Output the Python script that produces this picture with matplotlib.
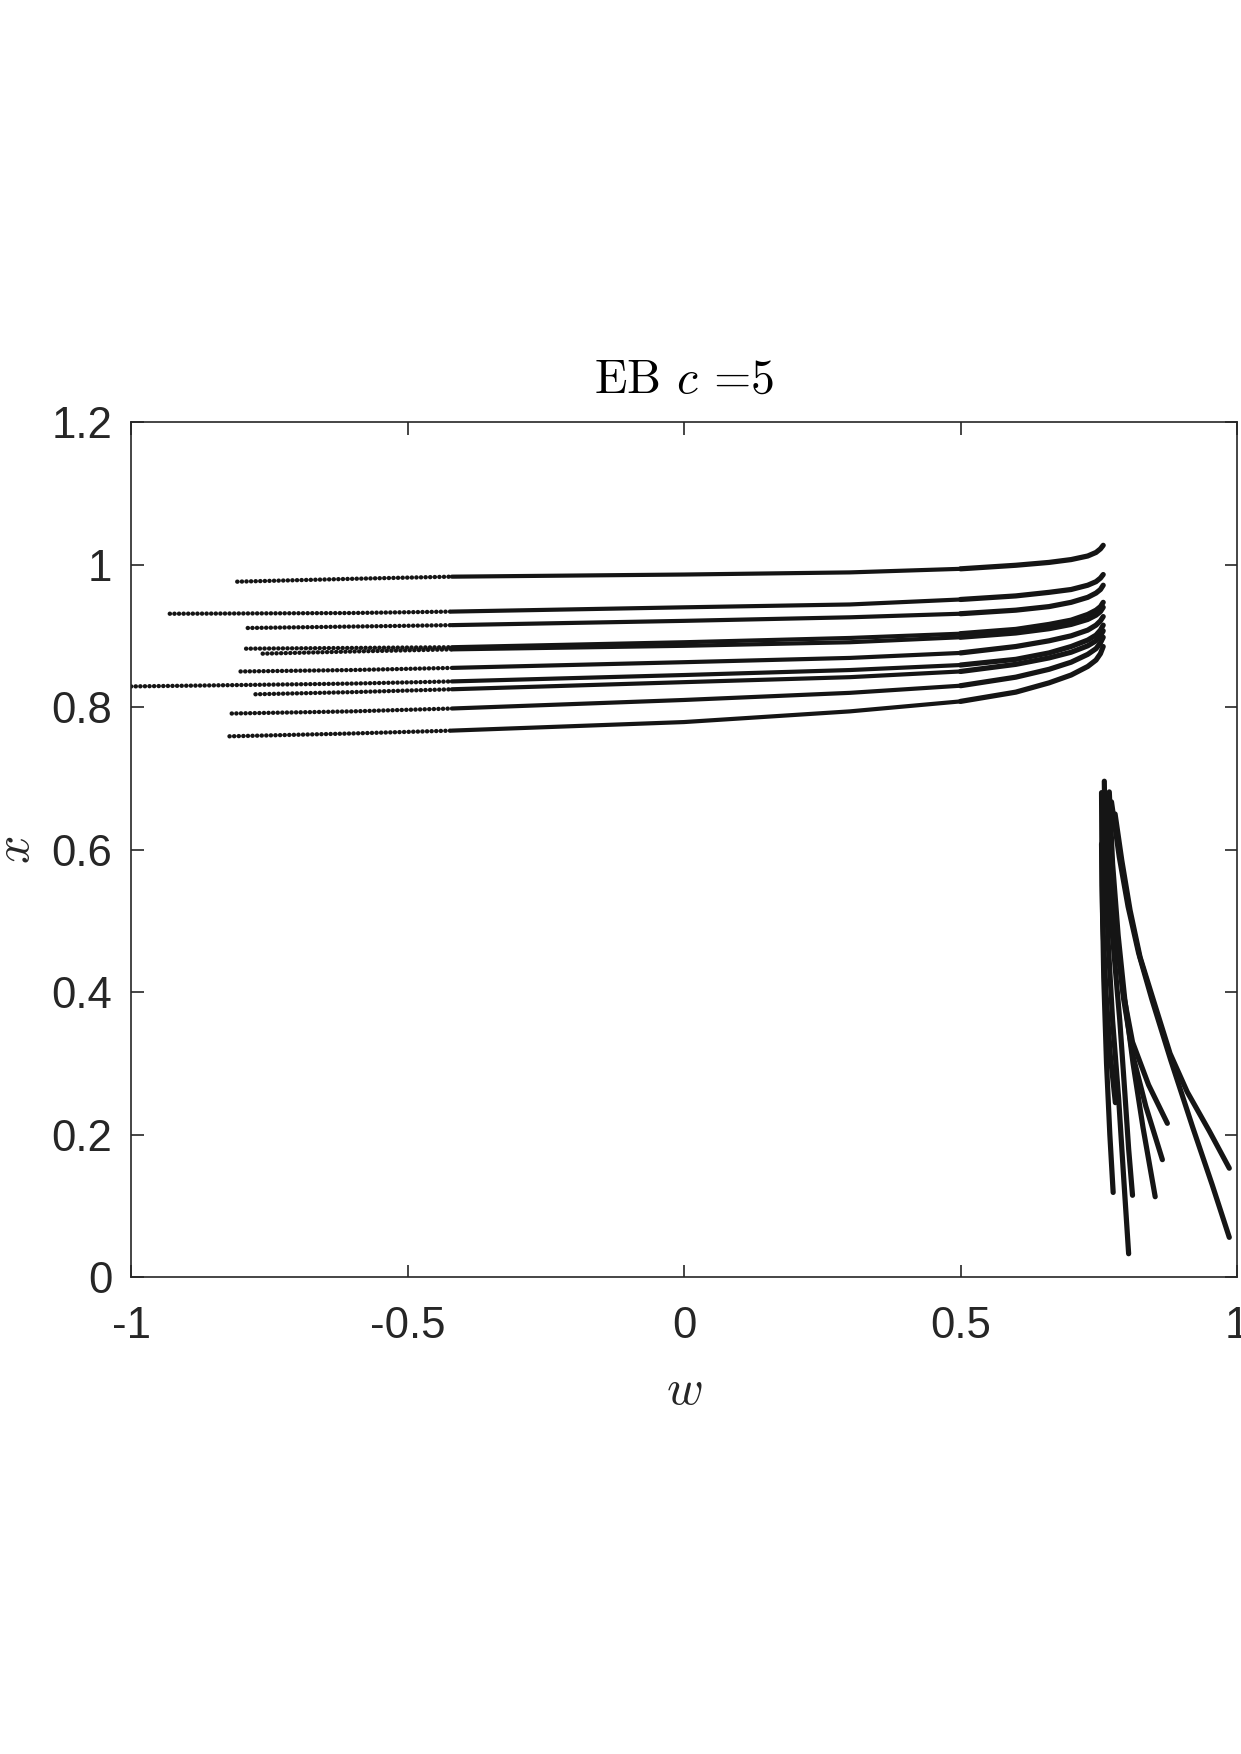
import matplotlib
matplotlib.use("Agg")
import matplotlib.pyplot as plt

plt.rcParams["mathtext.fontset"] = "cm"
plt.rcParams["font.family"] = ["Liberation Sans", "DejaVu Sans"]

AX_COLOR = "#262626"
LINE_COLOR = "#151515"

# upper branch: one list of (w, x) samples per trajectory
W_GRID = [-0.6, -0.42, 0.0, 0.3, 0.5, 0.6, 0.66, 0.70, 0.73, 0.745, 0.753, 0.758]
UPPER_W0 = [-0.808, -0.930, -0.789, -0.792, -0.762, -0.802, -1.000, -0.775, -0.818, -0.822]
UPPER_X0 = [0.976, 0.931, 0.911, 0.882, 0.875, 0.850, 0.829, 0.818, 0.791, 0.759]
UPPER_X = [
    [0.980, 0.983, 0.986, 0.989, 0.994, 0.999, 1.003, 1.007, 1.012, 1.017, 1.022, 1.027],
    [0.932, 0.934, 0.940, 0.944, 0.951, 0.956, 0.961, 0.965, 0.971, 0.976, 0.981, 0.986],
    [0.913, 0.915, 0.921, 0.926, 0.931, 0.936, 0.941, 0.947, 0.954, 0.960, 0.965, 0.971],
    [0.883, 0.884, 0.891, 0.897, 0.903, 0.909, 0.916, 0.922, 0.930, 0.936, 0.941, 0.947],
    [0.878, 0.881, 0.886, 0.891, 0.898, 0.904, 0.910, 0.916, 0.923, 0.929, 0.934, 0.940],
    [0.852, 0.855, 0.863, 0.869, 0.876, 0.885, 0.893, 0.900, 0.908, 0.915, 0.921, 0.927],
    [0.833, 0.836, 0.845, 0.852, 0.859, 0.867, 0.876, 0.885, 0.894, 0.901, 0.908, 0.915],
    [0.821, 0.825, 0.835, 0.842, 0.850, 0.860, 0.869, 0.877, 0.886, 0.893, 0.900, 0.907],
    [0.794, 0.798, 0.810, 0.820, 0.830, 0.842, 0.853, 0.863, 0.874, 0.882, 0.890, 0.898],
    [0.763, 0.767, 0.779, 0.794, 0.808, 0.821, 0.834, 0.845, 0.857, 0.866, 0.875, 0.885],
]

# lower branch
LOWER_W = [
    [0.755, 0.756, 0.759, 0.764, 0.770, 0.776],
    [0.760, 0.762, 0.767, 0.775, 0.786, 0.795, 0.804],
    [0.755, 0.757, 0.763, 0.771, 0.780],
    [0.762, 0.767, 0.778, 0.788, 0.797, 0.804, 0.811],
    [0.769, 0.775, 0.785, 0.797, 0.812, 0.830, 0.852],
    [0.766, 0.772, 0.782, 0.795, 0.812, 0.835, 0.865],
    [0.765, 0.771, 0.781, 0.794, 0.811, 0.840, 0.874],
    [0.7795, 0.7916, 0.8066, 0.8247, 0.8487, 0.8789, 0.910, 0.950, 0.986],
    [0.773, 0.787, 0.803, 0.822, 0.846, 0.880, 0.920, 0.955, 0.986],
]
LOWER_X = [
    [0.680, 0.550, 0.420, 0.300, 0.200, 0.119],
    [0.696, 0.580, 0.470, 0.360, 0.250, 0.140, 0.033],
    [0.608, 0.500, 0.400, 0.310, 0.245],
    [0.650, 0.550, 0.450, 0.360, 0.260, 0.180, 0.115],
    [0.681, 0.580, 0.480, 0.390, 0.300, 0.210, 0.113],
    [0.670, 0.570, 0.480, 0.390, 0.310, 0.240, 0.165],
    [0.660, 0.570, 0.480, 0.400, 0.330, 0.270, 0.216],
    [0.650, 0.585, 0.515, 0.449, 0.389, 0.314, 0.260, 0.205, 0.153],
    [0.667, 0.590, 0.520, 0.455, 0.390, 0.305, 0.210, 0.130, 0.056],
]

W_TICKS = [-1, -0.5, 0, 0.5, 1]
W_TICK_LABELS = ["-1", "-0.5", "0", "0.5", "1"]
X_TICKS = [0, 0.2, 0.4, 0.6, 0.8, 1.0, 1.2]
X_TICK_LABELS = ["0", "0.2", "0.4", "0.6", "0.8", "1", "1.2"]

fig = plt.figure(figsize=(1241 / 150, 1754 / 150), dpi=150)
ax = fig.add_axes([0.1056, 0.2718, 0.8912, 0.4876])

for w0, x0, xs in zip(UPPER_W0, UPPER_X0, UPPER_X):
    ws = [w0] + W_GRID
    xs = [x0] + xs
    # sparse sampling on the far left shows up as a beaded trace
    ax.plot(ws[:3], xs[:3], color=LINE_COLOR, lw=2.1,
            linestyle=(0, (0.05, 1.0)), dash_capstyle="round")
    ax.plot(ws[2:6], xs[2:6], color=LINE_COLOR, lw=2.0,
            solid_capstyle="round", solid_joinstyle="round")
    ax.plot(ws[5:], xs[5:], color=LINE_COLOR, lw=2.5,
            solid_capstyle="round", solid_joinstyle="round")

for ws, xs in zip(LOWER_W, LOWER_X):
    ax.plot(ws, xs, color=LINE_COLOR, lw=2.5,
            solid_capstyle="round", solid_joinstyle="round")

ax.set_xlim(-1, 1)
ax.set_ylim(0, 1.2)
ax.set_xticks(W_TICKS)
ax.set_xticklabels(W_TICK_LABELS)
ax.set_yticks(X_TICKS)
ax.set_yticklabels(X_TICK_LABELS)

ax.tick_params(direction="in", length=6, width=0.8, colors=AX_COLOR,
               labelsize=21, top=True, right=True)
ax.tick_params(axis="x", pad=14)
ax.tick_params(axis="y", pad=9)
for sp in ax.spines.values():
    sp.set_color(AX_COLOR)
    sp.set_linewidth(0.8)

ax.set_xlabel(r"$w$", fontsize=24, color=AX_COLOR, labelpad=10)
ax.set_ylabel(r"$x$", fontsize=24, color=AX_COLOR, labelpad=6)
ax.set_title(r"EB $c$ =5", fontsize=23, family="cmr10",
             color="black", pad=14)

fig.savefig("out.png", dpi=150)
